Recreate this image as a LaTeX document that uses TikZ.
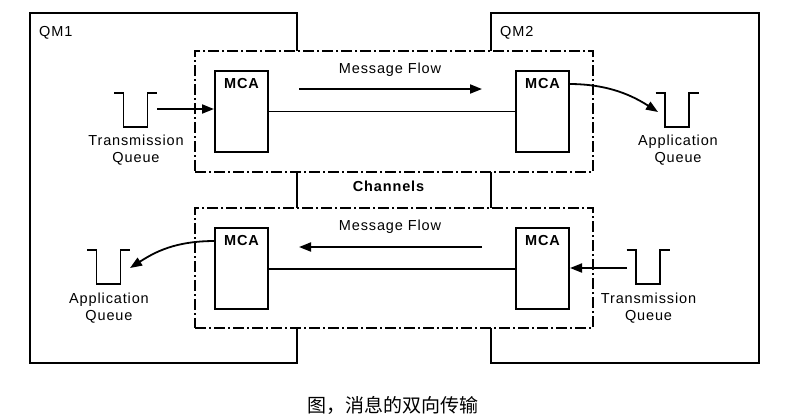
\documentclass[tikz,border=0pt]{standalone}
\usepackage{fontspec}
\setmainfont{Liberation Sans}
\newfontfamily\cjk{Noto Sans CJK SC}
\usetikzlibrary{arrows.meta}

\tikzset{
	qm/.style={draw, line width=1.8pt},
	channel/.style={draw, fill=white, line width=1.3pt, dash pattern=on 11pt off 3pt on 2pt off 3pt},
	mca/.style={draw, line width=2pt, minimum width=53pt, minimum height=81pt, inner sep=0pt, label={[bold, anchor=north, inner sep=8pt]north:MCA}},
	lbl/.style={font=\fontsize{14.5}{17}\selectfont\addfontfeature{LetterSpace=6}, align=center, inner sep=0pt},
	bold/.style={font=\fontsize{14.5}{17}\selectfont\bfseries\addfontfeature{LetterSpace=6}, inner sep=0pt},
	flow/.style={line width=1.8pt, -{Triangle[length=12pt,width=9pt]}},
	queue/.pic={\draw[line width=1.8pt] (-21.5,0) -- (-12,0) -- (-12,34) -- (12,34) -- (12,0) -- (21.5,0);}
}

\begin{document}
\begin{tikzpicture}[x=1pt, y=-1pt]
	\useasboundingbox (0,0) rectangle (791,418);
	% queue managers
	\draw[qm] (30,13) rectangle (297,363);
	\draw[qm] (491,13) rectangle (759,363);
	\node[lbl, anchor=west] (qm1) at (39,33) {QM1};
	\node[lbl, anchor=west] (qm2) at (500,33) {QM2};
	% channels
	\node[channel, minimum width=398pt, minimum height=121pt] (chUp) at (394,111.5) {};
	\node[channel, minimum width=398pt, minimum height=120pt] (chDown) at (394,268) {};
	\node[bold] (channels) at (388.5,186) {Channels};
	% message channel agents
	\node[mca] (mcaA) at (241.5,111.5) {};
	\node[mca] (mcaB) at (542.5,111.5) {};
	\node[mca] (mcaC) at (241.5,268.5) {};
	\node[mca] (mcaD) at (542.5,268.5) {};
	\draw[line width=1pt] (mcaA.east) -- (mcaB.west);
	\draw[line width=2pt] (mcaC.east) -- (mcaD.west);
	% message flow
	\coordinate (flowA) at (299,89);
	\coordinate (flowB) at (482,89);
	\coordinate (flowC) at (482,247);
	\coordinate (flowD) at (299,247);
	\draw[flow] (flowA) -- (flowB);
	\draw[flow] (flowC) -- (flowD);
	\node[lbl] (msgUp) at (390,70) {Message Flow};
	\node[lbl] (msgDown) at (390,227) {Message Flow};
	% queues
	\pic at (135.5,93) {queue};
	\pic at (677,93) {queue};
	\pic at (108.5,250) {queue};
	\pic at (648,250) {queue};
	\node[lbl] (tqA) at (136,150.5) {Transmission\\Queue};
	\node[lbl] (aqB) at (678,150.5) {Application\\Queue};
	\node[lbl] (aqC) at (109,308) {Application\\Queue};
	\node[lbl] (tqD) at (648.5,308) {Transmission\\Queue};
	\coordinate (tqAout) at (157,109);
	\coordinate (aqBin) at (658,112);
	\coordinate (aqCin) at (130,268);
	\coordinate (tqDout) at (627,268);
	\coordinate (mcaBout) at (569,84);
	\coordinate (mcaCout) at (215,241);
	\draw[flow] (tqAout) -- (tqAout -| mcaA.west);
	\draw[flow] (tqDout) -- (tqDout -| mcaD.east);
	\draw[flow] (mcaBout) .. controls +(40,0) and +(-25,-16) .. (aqBin);
	\draw[flow] (mcaCout) .. controls +(-40,0) and +(25,-16) .. (aqCin);
	% caption
	\node[font=\cjk\fontsize{19}{19}\selectfont, inner sep=0pt] (caption) at (393,405) {图，消息的双向传输};
\end{tikzpicture}
\end{document}
